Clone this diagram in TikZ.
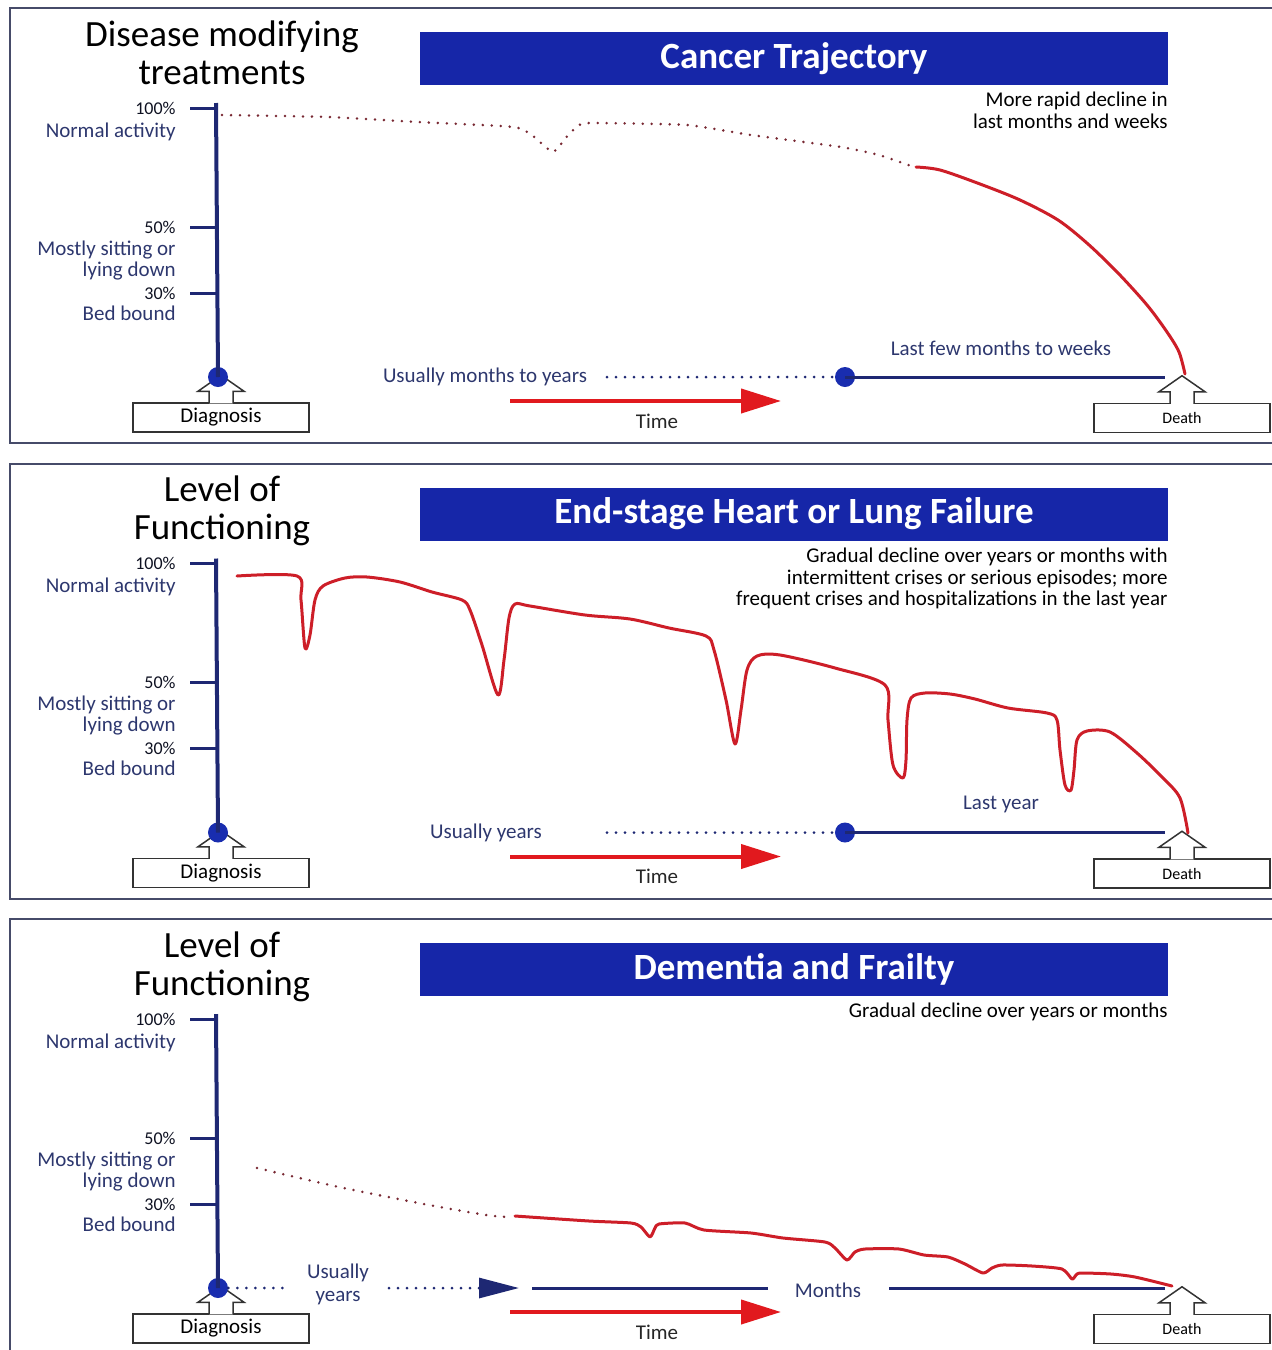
\documentclass[tikz,border=0pt]{standalone}
\usepackage{fontspec}
\setmainfont{Carlito}
\usetikzlibrary{arrows.meta}
\definecolor{banblue}{RGB}{22,38,168}
\definecolor{axnavy}{RGB}{30,40,115}
\definecolor{dotblue}{RGB}{25,45,175}
\definecolor{lblnavy}{RGB}{45,55,110}
\definecolor{curvered}{RGB}{205,30,40}
\definecolor{timered}{RGB}{225,25,30}
\definecolor{dotred}{RGB}{120,40,50}
\definecolor{framegray}{RGB}{70,75,105}

\begin{document}
\begin{tikzpicture}[
  x=0.5pt, y=-0.5pt,
  frame/.style={draw=framegray, line width=1pt},
  ttlfont/.style={font=\fontsize{18.5}{19}\selectfont, align=center, inner sep=0, anchor=north},
  banner/.style={fill=banblue, text=white, font=\bfseries\fontsize{18.5}{20}\selectfont, minimum width=374pt, minimum height=26.5pt, inner sep=0},
  lbl/.style={text=lblnavy, inner sep=0, font=\fontsize{10.5}{11.5}\selectfont},
  pct/.style={lbl, text=black!70!lblnavy, font=\fontsize{9}{10}\selectfont},
  desc/.style={inner sep=0, align=right, anchor=north east, font=\fontsize{10.5}{10.75}\selectfont},
  dotnode/.style={circle, fill=dotblue, inner sep=0, minimum size=10pt},
  axisline/.style={draw=axnavy, line width=2pt},
  tickline/.style={draw=axnavy, line width=1.5pt},
  evbox/.style={draw=black!80, line width=0.75pt, fill=white, minimum width=88pt, minimum height=14.5pt, inner sep=0, font=\fontsize{10.5}{11}\selectfont},
  evline/.style={draw=black!80, line width=0.75pt},
  timearrow/.style={draw=timered, fill=timered, line width=2pt, -{Triangle[length=20pt, width=12pt]}},
  tlline/.style={draw=axnavy, line width=1.5pt},
  tldots/.style={draw=axnavy, line width=1.5pt, line cap=round, dash pattern=on 0pt off 4.5pt},
  curvedots/.style={draw=dotred, line width=1.4pt, line cap=round, dash pattern=on 0pt off 4.5pt},
  redcurve/.style={draw=curvered, line width=1.5pt, line join=round, line cap=round}
]
  \useasboundingbox (0,0) rectangle (1272,1350);
  \clip (0,0) rectangle (1272,1350);
  \foreach \ttl/\ban [count=\p from 0] in {
    {Disease modifying\\treatments}/Cancer Trajectory,
    {Level of\\Functioning}/End-stage Heart or Lung Failure,
    {Level of\\Functioning}/Dementia and Frailty} {
    \begin{scope}[shift={(0,455.5*\p)}]
      \draw[frame] (10,8) rectangle (1300,443);
      \node[ttlfont] (ttl\p) at (222,20) {\ttl};
      \node[banner] (ban\p) at (794,58.5) {\ban};
      \foreach \yy/\pc in {108/100,227/50,293/30} {
        \coordinate (tk\pc-\p) at (216,\yy);
        \draw[tickline] (tk\pc-\p) -- ++(-26,0);
        \node[pct, anchor=base east] (pc\pc-\p) at (176,\yy+6) {\pc\%};
      }
      \node[lbl, anchor=base east] (norm\p) at (176,137) {Normal activity};
      \node[lbl, anchor=base east] (sit\p) at (176,255) {Mostly sitting or};
      \node[lbl, anchor=base east] (lie\p) at (176,276) {lying down};
      \node[lbl, anchor=base east] (bed\p) at (176,320) {Bed bound};
      \node[evbox] (diag\p) at (221,417.5) {Diagnosis};
      \node[evbox, font=\fontsize{8}{9}\selectfont] (death\p) at (1182,418) {Death};
      \foreach \b in {diag\p,death\p} {
        \draw[evline, fill=white] ([xshift=-6pt, yshift=-0.5pt]\b.north) -- ++(0,6pt) -- ++(-5.5pt,0)
          -- ++(11.5pt,8pt) -- ++(11.5pt,-8pt) -- ++(-5.5pt,0) -- ++(0,-6pt);
      }
      \coordinate (top\p) at (216,103);
      \node[dotnode] (diagdot\p) at (218,377) {};
      \draw[axisline] (top\p) -- (diagdot\p.center);
      \coordinate (t0\p) at (510,401);
      \coordinate (t1\p) at (781,401);
      \draw[timearrow] (t0\p) -- (t1\p);
      \node[lbl, text=black!85] (time\p) at (657,421) {Time};
    \end{scope}
  }

  \node[desc] (desc0) at (1168,92) {More rapid decline in\\last months and weeks};
  \node[lbl] (span0) at (485,377) {Usually months to years};
  \coordinate (dots0) at (607,377);
  \node[dotnode] (mid0) at (845,377) {};
  \coordinate (end0) at (1165,377);
  \draw[tldots] (dots0) -- (mid0);
  \draw[tlline] (mid0.center) -- (end0);
  \node[lbl] (last0) at (1001,348) {Last few months to weeks};
  \draw[curvedots] plot[smooth, tension=0.3] coordinates {(222,115) (328,117) (418,122) (514,127)
    (533,136) (553,152) (569,134) (581,124) (597,123) (687,125) (751,135) (841,147) (879,155) (914,167)};
  \draw[redcurve] plot[smooth, tension=0.5] coordinates {(916,167) (940,170) (980,184) (1020,200)
    (1058,220) (1088,244) (1118,273) (1147,305) (1167,332) (1179,352) (1185,374)};

  \node[desc] (desc1) at (1168,548) {Gradual decline over years or months with\\intermittent crises or serious episodes; more\\frequent crises and hospitalizations in the last year};
  \node[lbl] (span1) at (486,833) {Usually years};
  \coordinate (dots1) at (607,832.5);
  \node[dotnode] (mid1) at (845,832.5) {};
  \coordinate (end1) at (1165,832.5);
  \draw[tldots] (dots1) -- (mid1);
  \draw[tlline] (mid1.center) -- (end1);
  \node[lbl] (last1) at (1001,804) {Last year};
  \draw[redcurve] plot[smooth, tension=0.5] coordinates {(237,576) (297,576) (301,600) (305,648)
    (310,635) (315,600) (323,586) (345,578) (367,577) (400,582) (432,592) (462,600) (470,610)
    (482,645) (498,695) (504,660) (509,618) (515,604) (530,606) (585,615) (630,619) (669,628)
    (706,636) (714,650) (726,700) (735,744) (741,710) (747,670) (757,656) (780,655) (835,668)
    (885,685) (888,720) (893,765) (903,778) (906,760) (907,720) (911,698) (925,693) (950,694)
    (975,699) (1008,708) (1047,713) (1057,720) (1060,750) (1065,785) (1071,790) (1074,770)
    (1077,740) (1087,731) (1110,732) (1137,753) (1162,777) (1180,798) (1188,833)};

  \node[desc] (desc2) at (1168,1003) {Gradual decline over years or months};
  \coordinate (u2a) at (286,1288);
  \node[lbl, align=center, font=\fontsize{10.5}{11.5}\selectfont] (span2) at (338,1284) {Usually\\years};
  \coordinate (u2b) at (389,1288);
  \coordinate (arr2) at (519,1288);
  \draw[tldots] (diagdot2) -- (u2a);
  \draw[tldots, -{Triangle[length=20pt, width=10pt]}] (u2b) -- (arr2);
  \coordinate (m2a) at (532,1288);
  \coordinate (m2b) at (768,1288);
  \node[lbl] (months2) at (828,1290) {Months};
  \coordinate (m2c) at (889,1288);
  \coordinate (m2d) at (1165,1288);
  \draw[tlline] (m2a) -- (m2b);
  \draw[tlline] (m2c) -- (m2d);
  \draw[curvedots] plot[smooth, tension=0.4] coordinates {(257,1168) (339,1187) (429,1205) (486,1215) (508,1217)};
  \draw[redcurve] plot[smooth, tension=0.4] coordinates {(515,1216) (589,1221) (631,1223) (641,1227)
    (650,1237) (655,1228) (659,1224) (685,1223) (704,1230) (751,1233) (783,1238) (825,1242)
    (835,1248) (847,1260) (855,1252) (865,1249) (899,1249) (924,1255) (948,1257) (965,1264)
    (983,1273) (992,1268) (1002,1265) (1032,1266) (1062,1269) (1072,1279) (1076,1275) (1081,1273)
    (1111,1274) (1135,1277) (1172,1286)};
\end{tikzpicture}
\end{document}
